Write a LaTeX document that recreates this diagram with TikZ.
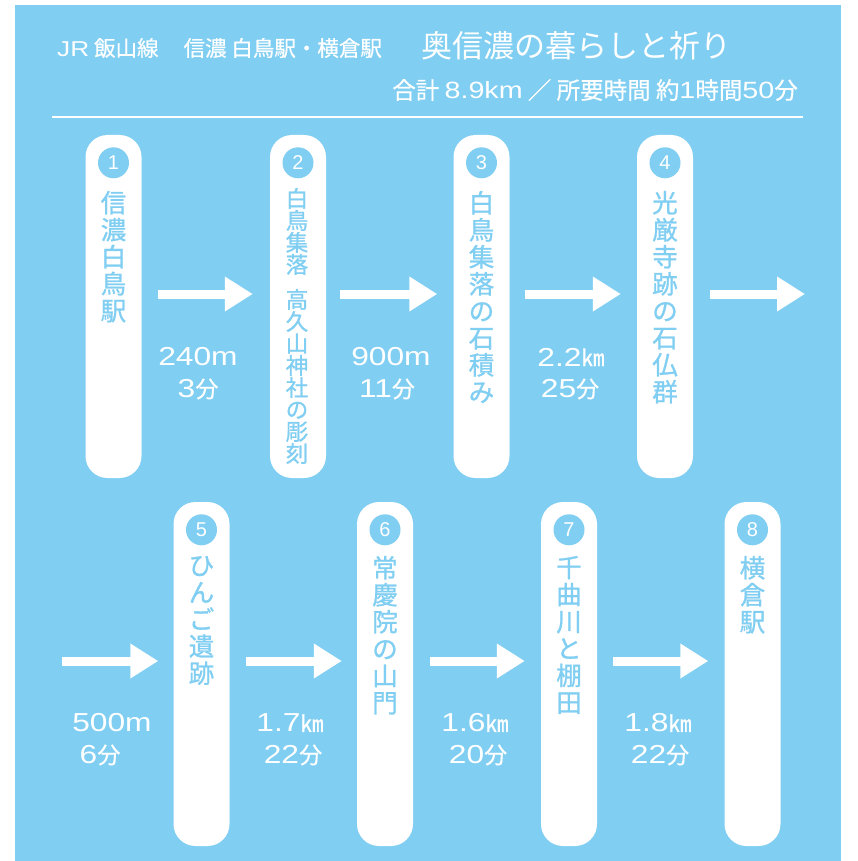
\documentclass[tikz,border=0pt]{standalone}
\usepackage{fontspec}
\usepackage{graphicx}
\setmainfont{Noto Sans CJK JP}
\newfontfamily\cjkm{Noto Sans CJK JP}[FakeBold=1.0]
\newfontfamily\cjks{Noto Sans CJK JP}[FakeBold=0.5]
\newfontfamily\lat{Liberation Sans}
\usetikzlibrary{arrows.meta,calc}
\definecolor{sky}{RGB}{128,206,242}
\newcommand{\latw}[1]{{\lat\scalebox{1.22}[1]{#1}}}
\newcommand{\fsz}[1]{\fontsize{#1}{#1}\selectfont}
\begin{document}
\begin{tikzpicture}[x=1pt,y=-1pt,
  card/.style={fill=white, rounded corners=22pt, minimum width=56pt, minimum height=343pt, inner sep=0pt},
  numc/.style={circle, fill=sky, text=white, minimum size=31pt, inner sep=0pt, font=\lat\fsz{20}},
  vtxt/.style={text=sky, align=center, inner sep=0pt, anchor=north, font=\cjkm\fontsize{25.5}{27}\selectfont},
  arr/.style={white, line width=9pt, -{Triangle[length=28pt,width=33pt]}},
  dl/.style={text=white, inner sep=0pt, font=\cjks\fsz{26}},
  ttl/.style={text=white, inner sep=0pt}]
\useasboundingbox (0,0) rectangle (858,861);
\fill[sky] (15,5) rectangle (841,861);
% titles
\node[ttl, anchor=west, font=\cjks\fsz{21.5}] (t1) at (57,48) {\latw{JR} 飯山線\hspace{25pt}信濃 白鳥駅・横倉駅};
\node[ttl, anchor=west, font=\fsz{31}] (t2) at (421,46) {奥信濃の暮らしと祈り};
\node[ttl, anchor=east, font=\cjks\fsz{23.5}] (t3) at (798,90) {合計 \latw{8.9km} ／ 所要時間 約\latw{1}時間\latw{50}分};
\draw[white, line width=1.5pt] (52,117) -- (803,117);
% cards top row
\node[card] (c1) at (113.5,306.5) {};
\node[card] (c2) at (298,306.5) {};
\node[card] (c3) at (481.5,306.5) {};
\node[card] (c4) at (665,306.5) {};
% cards bottom row
\node[card, minimum height=344pt] (c5) at (201.5,674) {};
\node[card, minimum height=344pt] (c6) at (385,674) {};
\node[card, minimum height=344pt] (c7) at (569,674) {};
\node[card, minimum height=344pt] (c8) at (752.5,674) {};
% number circles
\foreach \i in {1,...,8}{
  \node[numc] (n\i) at ($(c\i.north)+(0,28)$) {\i};
}
% vertical texts
\node[vtxt] (v1) at ($(c1.north)+(0,56)$) {信\\濃\\白\\鳥\\駅};
\node[vtxt, font=\cjkm\fontsize{22.5}{22}\selectfont] (v2) at ($(c2.north)+(-1,53)$) {白\\鳥\\集\\落\\[13pt]高\\久\\山\\神\\社\\の\\彫\\刻};
\node[vtxt] (v3) at ($(c3.north)+(0,56)$) {白\\鳥\\集\\落\\の\\石\\積\\み};
\node[vtxt] (v4) at ($(c4.north)+(0,56)$) {光\\厳\\寺\\跡\\の\\石\\仏\\群};
\node[vtxt] (v5) at ($(c5.north)+(0,54)$) {ひ\\ん\\ご\\遺\\跡};
\node[vtxt] (v6) at ($(c6.north)+(0,54)$) {常\\慶\\院\\の\\山\\門};
\node[vtxt] (v7) at ($(c7.north)+(0,54)$) {千\\曲\\川\\と\\棚\\田};
\node[vtxt] (v8) at ($(c8.north)+(0,54)$) {横\\倉\\駅};
% arrows
\coordinate (e4) at (805,294);
\coordinate (s0) at (62,661);
\draw[arr] ($(c1.east)+(16,-12.5)$) -- ($(c2.west)+(-17,-12.5)$);
\draw[arr] ($(c2.east)+(14,-12.5)$) -- ($(c3.west)+(-16,-12.5)$);
\draw[arr] ($(c3.east)+(15,-12.5)$) -- ($(c4.west)+(-16,-12.5)$);
\draw[arr] ($(c4.east)+(17,-12.5)$) -- (e4);
\draw[arr] (s0) -- ($(c5.west)+(-15,-13)$);
\draw[arr] ($(c5.east)+(16,-13)$) -- ($(c6.west)+(-15,-13)$);
\draw[arr] ($(c6.east)+(17,-13)$) -- ($(c7.west)+(-16,-13)$);
\draw[arr] ($(c7.east)+(16,-13)$) -- ($(c8.west)+(-16,-13)$);
% distance labels
\node[dl] (d1) at (198,357) {\latw{240m}};
\node[dl] (m1) at (198,389) {\latw{3}{\fsz{23}分}};
\node[dl] (d2) at (391,357) {\latw{900m}};
\node[dl] (m2) at (387,389) {\latw{11}{\fsz{23}分}};
\node[dl] (d3) at (571,357) {\latw{2.2}{\fsz{23}㎞}};
\node[dl] (m3) at (570,389) {\latw{25}{\fsz{23}分}};
\node[dl] (d5) at (112,723) {\latw{500m}};
\node[dl] (m5) at (100,755) {\latw{6}{\fsz{23}分}};
\node[dl] (d6) at (290,723) {\latw{1.7}{\fsz{23}㎞}};
\node[dl] (m6) at (293,755) {\latw{22}{\fsz{23}分}};
\node[dl] (d7) at (475,723) {\latw{1.6}{\fsz{23}㎞}};
\node[dl] (m7) at (478,755) {\latw{20}{\fsz{23}分}};
\node[dl] (d8) at (658,723) {\latw{1.8}{\fsz{23}㎞}};
\node[dl] (m8) at (660,755) {\latw{22}{\fsz{23}分}};
\end{tikzpicture}
\end{document}
